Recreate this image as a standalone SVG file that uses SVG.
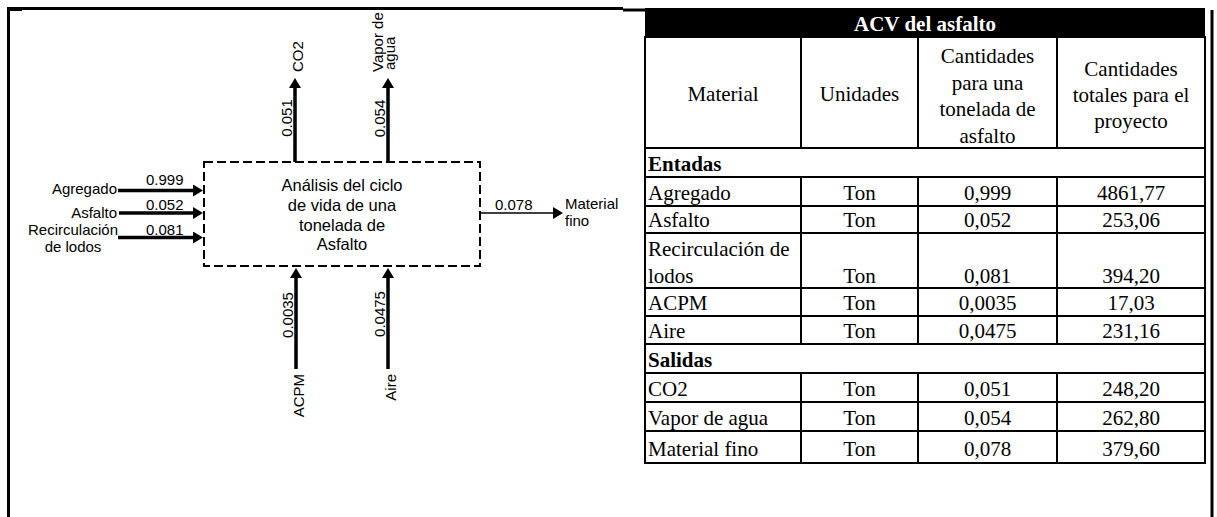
<svg xmlns="http://www.w3.org/2000/svg" width="1217" height="517" viewBox="0 0 1217 517">
<style>
.lbl{font-family:"Liberation Sans",Arial,sans-serif;font-size:15px;fill:#000}
.box{font-family:"Liberation Sans",Arial,sans-serif;font-size:16.5px;fill:#000}
.t{font-family:"Liberation Serif","Times New Roman",serif;font-size:21px;fill:#000}
.tb{font-family:"Liberation Serif","Times New Roman",serif;font-size:21px;font-weight:bold;fill:#000}
.c{text-anchor:middle}
.e{text-anchor:end}
.thick{stroke:#000;stroke-width:3.5;fill:none}
.frm{stroke:#000;stroke-width:3;fill:none}
.thin{stroke:#000;stroke-width:1.6;fill:none}
.grid{stroke:#000;stroke-width:2;fill:none}
</style>
<defs>
<marker id="ah" markerUnits="userSpaceOnUse" markerWidth="11" markerHeight="12" refX="0" refY="6" orient="auto">
<path d="M0,0 L10,6 L0,12 z" fill="#000"/>
</marker>
<marker id="ahs" markerUnits="userSpaceOnUse" markerWidth="11" markerHeight="12" refX="0" refY="6" orient="auto">
<path d="M0,0 L10,6 L0,12 z" fill="#000"/>
</marker>
</defs>
<rect width="1217" height="517" fill="#fff"/>
<g id="frame">
<line x1="8.5" y1="7" x2="8.5" y2="517" class="frm"/>
<line x1="7" y1="8.5" x2="623" y2="8.5" class="frm"/>
<line x1="623" y1="10" x2="645" y2="10" class="frm"/>
<rect x="7" y="7" width="15" height="4" fill="#000"/>
<line x1="1212" y1="10" x2="1212" y2="517" class="frm"/>
</g>
<g id="process">
<rect x="204" y="162" width="276" height="104" fill="none" stroke="#000" stroke-width="2" stroke-dasharray="9,4"/>
<text class="box c" x="342" y="191">Análisis del ciclo</text>
<text class="box c" x="342" y="211">de vida de una</text>
<text class="box c" x="342" y="231">tonelada de</text>
<text class="box c" x="342" y="250">Asfalto</text>
</g>
<g id="connectors">
<line x1="118" y1="190.5" x2="193" y2="190.5" class="thick" marker-end="url(#ah)"/>
<line x1="119" y1="213" x2="193" y2="213" class="thick" marker-end="url(#ah)"/>
<line x1="118" y1="237.5" x2="193" y2="237.5" class="thick" marker-end="url(#ah)"/>
<line x1="295" y1="162" x2="295" y2="88" class="thick" marker-end="url(#ah)"/>
<line x1="388" y1="162" x2="388" y2="88" class="thick" marker-end="url(#ah)"/>
<line x1="296" y1="369" x2="296" y2="278" class="thick" marker-end="url(#ah)"/>
<line x1="388" y1="369" x2="388" y2="278" class="thick" marker-end="url(#ah)"/>
<line x1="480" y1="213" x2="553" y2="213" class="thin" marker-end="url(#ahs)"/>
</g>
<g id="labels">
<text class="lbl e" x="117" y="194">Agregado</text>
<text class="lbl" x="146" y="185">0.999</text>
<text class="lbl e" x="117" y="218">Asfalto</text>
<text class="lbl" x="146" y="210">0.052</text>
<text class="lbl c" x="73" y="235">Recirculación</text>
<text class="lbl c" x="73" y="252">de lodos</text>
<text class="lbl" x="146" y="235">0.081</text>
<text class="lbl" x="495" y="210">0.078</text>
<text class="lbl" x="565" y="209">Material</text>
<text class="lbl" x="565" y="226">fino</text>
<text class="lbl" transform="translate(303,72) rotate(-90)">CO2</text>
<text class="lbl c" transform="translate(292,118) rotate(-90)">0.051</text>
<text class="lbl" transform="translate(383,72) rotate(-90)">Vapor de</text>
<text class="lbl" transform="translate(395,70) rotate(-90)">agua</text>
<text class="lbl c" transform="translate(385,118.5) rotate(-90)">0.054</text>
<text class="lbl c" transform="translate(293,315) rotate(-90)">0.0035</text>
<text class="lbl c" transform="translate(385,314) rotate(-90)">0.0475</text>
<text class="lbl e" transform="translate(304,374) rotate(-90)">ACPM</text>
<text class="lbl e" transform="translate(396,374) rotate(-90)">Aire</text>
</g>
<g id="table">
<rect x="645" y="8" width="560" height="29" fill="#000"/>
<text class="tb c" x="925" y="31" style="fill:#fff">ACV del asfalto</text>
<rect x="645" y="37" width="560" height="426" class="grid" stroke-width="2.5"/>
<g class="grid">
<line x1="801" y1="37" x2="801" y2="148"/>
<line x1="918" y1="37" x2="918" y2="148"/>
<line x1="1057" y1="37" x2="1057" y2="148"/>
<line x1="645" y1="148" x2="1205" y2="148"/>
<line x1="645" y1="177" x2="1205" y2="177"/>
<line x1="801" y1="177" x2="801" y2="344"/>
<line x1="918" y1="177" x2="918" y2="344"/>
<line x1="1057" y1="177" x2="1057" y2="344"/>
<line x1="645" y1="206" x2="1205" y2="206"/>
<line x1="645" y1="233" x2="1205" y2="233"/>
<line x1="645" y1="288" x2="1205" y2="288"/>
<line x1="645" y1="316" x2="1205" y2="316"/>
<line x1="645" y1="344" x2="1205" y2="344"/>
<line x1="645" y1="373" x2="1205" y2="373"/>
<line x1="801" y1="373" x2="801" y2="463"/>
<line x1="918" y1="373" x2="918" y2="463"/>
<line x1="1057" y1="373" x2="1057" y2="463"/>
<line x1="645" y1="402" x2="1205" y2="402"/>
<line x1="645" y1="431" x2="1205" y2="431"/>
</g>
<text class="t c" x="723" y="101">Material</text>
<text class="t c" x="859.5" y="101">Unidades</text>
<text class="t c" x="987.5" y="63">Cantidades</text>
<text class="t c" x="987.5" y="89.5">para una</text>
<text class="t c" x="987.5" y="116">tonelada de</text>
<text class="t c" x="987.5" y="142.5">asfalto</text>
<text class="t c" x="1131" y="76">Cantidades</text>
<text class="t c" x="1131" y="102">totales para el</text>
<text class="t c" x="1131" y="128">proyecto</text>
<text class="tb" x="648" y="171">Entadas</text>
<text class="t" x="648" y="200">Agregado</text>
<text class="t c" x="859.5" y="200">Ton</text>
<text class="t c" x="987.5" y="200">0,999</text>
<text class="t c" x="1131" y="200">4861,77</text>
<text class="t" x="648" y="227">Asfalto</text>
<text class="t c" x="859.5" y="227">Ton</text>
<text class="t c" x="987.5" y="227">0,052</text>
<text class="t c" x="1131" y="227">253,06</text>
<text class="t" x="648" y="256">Recirculación de</text>
<text class="t" x="648" y="283">lodos</text>
<text class="t c" x="859.5" y="283">Ton</text>
<text class="t c" x="987.5" y="283">0,081</text>
<text class="t c" x="1131" y="283">394,20</text>
<text class="t" x="648" y="310">ACPM</text>
<text class="t c" x="859.5" y="310">Ton</text>
<text class="t c" x="987.5" y="310">0,0035</text>
<text class="t c" x="1131" y="310">17,03</text>
<text class="t" x="648" y="338">Aire</text>
<text class="t c" x="859.5" y="338">Ton</text>
<text class="t c" x="987.5" y="338">0,0475</text>
<text class="t c" x="1131" y="338">231,16</text>
<text class="tb" x="648" y="367">Salidas</text>
<text class="t" x="648" y="396">CO2</text>
<text class="t c" x="859.5" y="396">Ton</text>
<text class="t c" x="987.5" y="396">0,051</text>
<text class="t c" x="1131" y="396">248,20</text>
<text class="t" x="648" y="425">Vapor de agua</text>
<text class="t c" x="859.5" y="425">Ton</text>
<text class="t c" x="987.5" y="425">0,054</text>
<text class="t c" x="1131" y="425">262,80</text>
<text class="t" x="648" y="456">Material fino</text>
<text class="t c" x="859.5" y="456">Ton</text>
<text class="t c" x="987.5" y="456">0,078</text>
<text class="t c" x="1131" y="456">379,60</text>
</g>
</svg>
